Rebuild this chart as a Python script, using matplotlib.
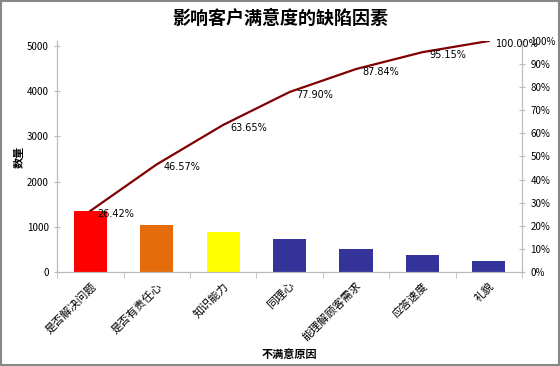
import matplotlib.pyplot as plt
from matplotlib.patches import Rectangle
from matplotlib.ticker import FuncFormatter
import numpy as np

plt.rcParams['font.family'] = ['Noto Sans CJK SC', 'DejaVu Sans']

reasons = ['是否解决问题', '是否有责任心', '知识能力', '同理心', '能理解顾客需求', '应答速度', '礼貌']
counts = [1350, 1030, 873, 728, 508, 374, 248]
cum_pct = [26.42, 46.57, 63.65, 77.90, 87.84, 95.15, 100.00]
bar_colors = ['#FF0000', '#E46C0A', '#FFFF00', '#333399', '#333399', '#333399', '#333399']

fig = plt.figure(figsize=(5.6, 3.66), dpi=100)
ax = fig.add_axes([0.102, 0.257, 0.83, 0.631])
ax2 = ax.twinx()

x = np.arange(len(reasons))
ax.bar(x, counts, width=0.5, color=bar_colors, zorder=2)
ax.set_xlim(-0.5, len(reasons) - 0.5)
ax.set_ylim(0, sum(counts))
ax.set_yticks(range(0, 5001, 1000))
ax.set_xticks(x)
ax.set_xticklabels(reasons, rotation=45, ha='right', rotation_mode='anchor', fontsize=8)
ax.set_xticks(np.arange(len(reasons) + 1) - 0.5, minor=True)
ax.tick_params(axis='x', which='major', length=0, pad=6)
ax.tick_params(axis='x', which='minor', length=4, color='#BBBBBB', direction='out')
ax.tick_params(axis='y', labelsize=7, length=4, color='#BBBBBB', direction='inout', pad=4)
for s in ['left', 'bottom', 'right']:
    ax.spines[s].set_color('#BBBBBB')
ax.spines['top'].set_visible(False)
ax.set_ylabel('数量', fontsize=8, fontweight='bold', labelpad=1)
ax.set_xlabel('不满意原因', fontsize=8, fontweight='bold', labelpad=4)

ax2.plot(x, cum_pct, color='#800000', lw=1.6, zorder=3)
ax2.set_ylim(0, 100)
ax2.set_yticks(range(0, 101, 10))
ax2.yaxis.set_major_formatter(FuncFormatter(lambda v, p: '%d%%' % v))
ax2.tick_params(axis='y', labelsize=7, length=4, color='#BBBBBB', direction='inout', pad=4)
for s in ['left', 'bottom', 'right']:
    ax2.spines[s].set_color('#BBBBBB')
ax2.spines['top'].set_visible(False)
for xi, v in zip(x, cum_pct):
    ax2.annotate('%.2f%%' % v, (xi, v), xytext=(5, -2), textcoords='offset points',
                 fontsize=7, va='center', ha='left', family='DejaVu Sans')

fig.suptitle('影响客户满意度的缺陷因素', fontsize=13, fontweight='bold', y=0.975)
fig.patches.append(Rectangle((0.002, 0.003), 0.996, 0.994, transform=fig.transFigure,
                             fill=False, edgecolor='#888888', lw=1.5))

fig.savefig('out.png', dpi=100)
